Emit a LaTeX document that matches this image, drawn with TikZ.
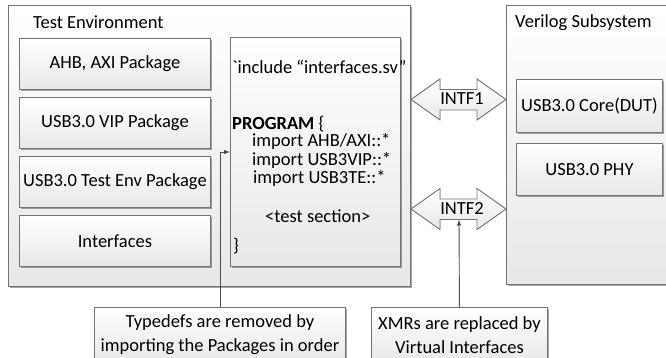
\documentclass[tikz,border=0pt]{standalone}
\usepackage{fontspec}
\setmainfont{Carlito}
\newfontfamily\gravefont{Carlito}[Ligatures=ResetAll]
\usetikzlibrary{arrows.meta,shadows}
\begin{document}
\begin{tikzpicture}[x=1pt,y=-1pt,
  font=\fontsize{18.5}{20}\selectfont,
  frame/.style={draw=black!55, line width=0.9pt, top color=white, bottom color=black!9},
  pbox/.style={frame, anchor=north west, inner sep=0pt, align=center,
    drop shadow={shadow xshift=1.2pt, shadow yshift=-1.2pt, opacity=0.35, fill=black}},
  lbox/.style={pbox, minimum width=191pt, minimum height=51pt},
  rbox/.style={pbox, minimum width=146pt, minimum height=53pt},
  cbox/.style={pbox, minimum height=55pt, font=\fontsize{18.5}{24}\selectfont},
  title/.style={anchor=west, inner sep=0pt},
  code/.style={anchor=base west, inner sep=0pt},
  conn/.style={draw=black!70, line width=0.9pt, -{Latex[length=6pt,width=4.5pt]}},
  dblarrow/.style={frame}
]
\useasboundingbox (0,0) rectangle (666,358);
\clip (0,0) rectangle (666,358);

% containers
\node[pbox, minimum width=402pt, minimum height=281pt] (env) at (8,5) {};
\node[pbox, minimum width=164pt, minimum height=279pt] (ver) at (506,5) {};
\node[title] (envt) at (33,22) {Test Environment};
\node[title] (vert) at (515,23) {Verilog Subsystem};

% packages
\node[lbox] (ahb) at (19,38) {AHB, AXI Package};
\node[lbox] (vip) at (19,97) {USB3.0 VIP Package};
\node[lbox] (te) at (19,156) {USB3.0 Test Env Package};
\node[lbox] (intf) at (19,215) {Interfaces};

% program box
\node[pbox, minimum width=170pt, minimum height=229pt] (prog) at (230,37) {};
\node[code] (l1) at (232,74) {{\gravefont\char"60}include “interfaces.sv”};
\node[code] (l2) at (232,130) {\textbf{PROGRAM} \{};
\node[code] (l3) at (252,147) {import AHB/AXI::*};
\node[code] (l4) at (252,165.5) {import USB3VIP::*};
\node[code] (l5) at (253,184) {import USB3TE::*};
\node[code] (l6) at (265,222) {<test section>};
\node[code] (l7) at (233,251) {\}};

% verilog blocks
\node[rbox] (core) at (516,79) {USB3.0 Core(DUT)};
\node[rbox, minimum height=52pt] (phy) at (516,143) {USB3.0 PHY};

% interface double arrows
\filldraw[dblarrow] (411,99.5) -- (440,79) -- (440,89.5) -- (477,89.5) -- (477,79)
  -- (506,99.5) -- (477,120) -- (477,110) -- (440,110) -- (440,120) -- cycle;
\node (i1) at (462,99) {INTF1};
\filldraw[dblarrow] (411,209) -- (440,188.5) -- (440,199) -- (477,199) -- (477,188.5)
  -- (506,209) -- (477,229.5) -- (477,219.5) -- (440,219.5) -- (440,229.5) -- cycle;
\node (i2) at (462,208) {INTF2};
\coordinate (i2b) at (459,219.5);

% callouts
\node[cbox, minimum width=251pt] (call1) at (94,307) {Typedefs are removed by\\importing the Packages in order};
\node[cbox, minimum width=176pt] (call2) at (371,307) {XMRs are replaced by\\Virtual Interfaces};

% connectors
\coordinate (bend) at (219.5,152);
\draw[conn] (call1.north) |- (prog.west |- bend);
\draw[conn] (call2.north) -- (i2b);
\end{tikzpicture}
\end{document}
